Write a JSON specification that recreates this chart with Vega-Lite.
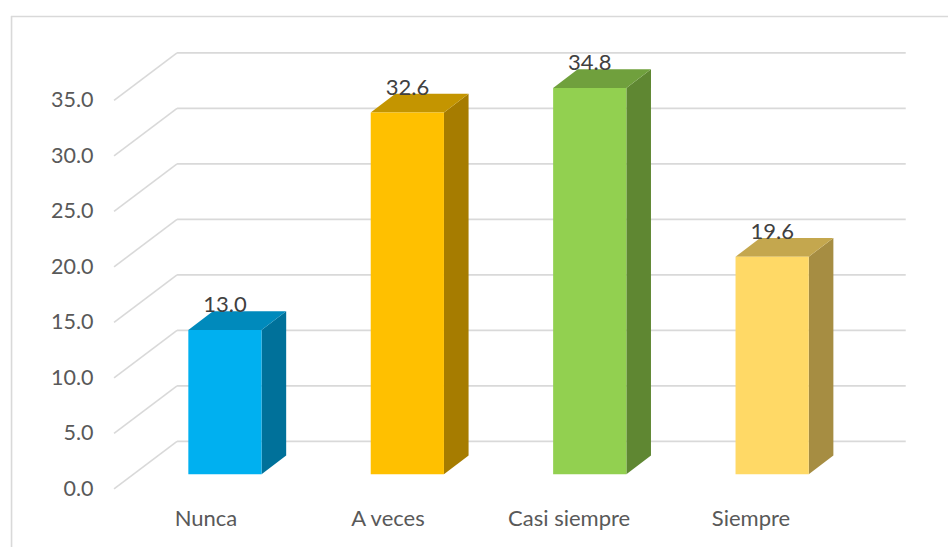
{
"$schema":"https://vega.github.io/schema/vega-lite/v6.json",
"width":937,"height":531,
"autosize":{"type":"none"},
"padding":{"left":11,"top":16,"right":0,"bottom":0},
"background":"white",
"view":{"stroke":null},
"config":{"font":"Lato","view":{"stroke":null}},
"datasets":{
 "barras":[{"categoria":"Nunca","valor":13.0},{"categoria":"A veces","valor":32.6},{"categoria":"Casi siempre","valor":34.8},{"categoria":"Siempre","valor":19.6}],
 "marcas":[{"valor":0},{"valor":5},{"valor":10},{"valor":15},{"valor":20},{"valor":25},{"valor":30},{"valor":35}]
},
"resolve":{"scale":{"color":"independent"},"axis":{"x":"independent","y":"independent"}},
"layer":[
 {"data":{"values":[{}]},"mark":{"type":"rule","color":"#d9d9d9","strokeWidth":1.6},
  "encoding":{"x":{"datum":-1.0663,"scale":{"domain":[-1.0693,4.0677],"nice":false,"zero":false},"axis":null}}},
 {"data":{"values":[{}]},"mark":{"type":"rule","color":"#d9d9d9","strokeWidth":1.6},
  "encoding":{"y":{"datum":42.55,"scale":{"domain":[-5.238,42.6],"nice":false,"zero":false},"axis":null}}},
 {"data":{"name":"marcas"},
  "transform":[{"calculate":"datum.valor+4.28","as":"fondo"}],
  "mark":{"type":"rule","color":"#d9d9d9","strokeWidth":1.6},
  "encoding":{
   "x":{"datum":-0.5044,"axis":null},
   "x2":{"datum":-0.159},
   "y":{"field":"valor","type":"quantitative","axis":{"orient":"left","values":[0,5,10,15,20,25,30,35],"format":".1f","title":null,"domain":false,"ticks":false,"grid":false,"offset":-82,"labelPadding":0,"labelOffset":0.5,"labelFont":"Lato","labelFontSize":21.5,"labelColor":"#595959"}},
   "y2":{"field":"fondo"}}},
 {"data":{"name":"marcas"},
  "transform":[{"calculate":"datum.valor+4.28","as":"fondo"}],
  "mark":{"type":"rule","color":"#d9d9d9","strokeWidth":1.6},
  "encoding":{
   "x":{"datum":-0.159,"axis":null},
   "x2":{"datum":3.836},
   "y":{"field":"fondo","type":"quantitative","axis":null}}},
 {"data":{"name":"barras"},
  "transform":[{"window":[{"op":"row_number","as":"n"}]},
   {"calculate":"[0,1]","as":"d"},{"flatten":["d"]},
   {"calculate":"datum.n-1+0.3043+datum.d*0.135","as":"xs"},
   {"calculate":"datum.valor+1.315+datum.d*1.685","as":"yt"},
   {"calculate":"1.315+datum.d*1.685","as":"yb"}],
  "mark":{"type":"area","orient":"vertical","interpolate":"linear"},
  "encoding":{
   "x":{"field":"xs","type":"quantitative","axis":null},
   "y":{"field":"yt","type":"quantitative","stack":null,"axis":null},
   "y2":{"field":"yb"},
   "color":{"field":"categoria","type":"nominal","legend":null,"scale":{"domain":["Nunca","A veces","Casi siempre","Siempre"],"range":["#00719A","#A67C00","#5F8732","#A68D42"]}}}},
 {"data":{"name":"barras"},
  "transform":[{"window":[{"op":"row_number","as":"n"}]},
   {"calculate":"[0,1]","as":"d"},{"flatten":["d"]},
   {"calculate":"datum.n-1-0.0971+datum.d*0.135","as":"xl"},
   {"calculate":"datum.n-1+0.3043+datum.d*0.135","as":"xr"},
   {"calculate":"datum.valor+1.315+datum.d*1.685","as":"yt"}],
  "mark":{"type":"area","orient":"horizontal","interpolate":"linear"},
  "encoding":{
   "y":{"field":"yt","type":"quantitative","axis":null},
   "x":{"field":"xl","type":"quantitative","stack":null,"axis":null},
   "x2":{"field":"xr"},
   "color":{"field":"categoria","type":"nominal","legend":null,"scale":{"domain":["Nunca","A veces","Casi siempre","Siempre"],"range":["#008ABC","#C49500","#70A03D","#C4A74E"]}}}},
 {"data":{"name":"barras"},
  "transform":[{"window":[{"op":"row_number","as":"n"}]},
   {"calculate":"datum.n-1-0.0971","as":"xl"},
   {"calculate":"datum.n-1+0.3043","as":"xr"},
   {"calculate":"datum.valor+1.315","as":"yt"},
   {"calculate":"1.315","as":"yb"}],
  "mark":{"type":"rect"},
  "encoding":{
   "x":{"field":"xl","type":"quantitative","axis":{"orient":"bottom","values":[-0.003,0.995,1.988,2.985],"labelExpr":"['Nunca','A veces','Casi siempre','Siempre'][round(datum.value)]","title":null,"domain":false,"ticks":false,"grid":false,"offset":-29,"labelPadding":0,"labelBaseline":"middle","labelFont":"Lato","labelFontSize":22,"labelColor":"#595959","labelOverlap":false,"labelFlush":false,"labelBound":false}},
   "x2":{"field":"xr"},
   "y":{"field":"yt","type":"quantitative","axis":null},
   "y2":{"field":"yb"},
   "color":{"field":"categoria","type":"nominal","legend":null,"scale":{"domain":["Nunca","A veces","Casi siempre","Siempre"],"range":["#00B0F0","#FFC000","#92D050","#FFD966"]}}}},
 {"data":{"name":"barras"},
  "transform":[{"window":[{"op":"row_number","as":"n"}]},
   {"calculate":"datum.n-1+0.104","as":"xc"},
   {"calculate":"datum.valor+3.0","as":"yt"}],
  "mark":{"type":"text","font":"Lato","fontSize":22,"color":"#404040","baseline":"alphabetic","align":"center","dy":1},
  "encoding":{
   "x":{"field":"xc","type":"quantitative","axis":null},
   "y":{"field":"yt","type":"quantitative","axis":null},
   "text":{"field":"valor","type":"quantitative","format":".1f"}}}
]
}
